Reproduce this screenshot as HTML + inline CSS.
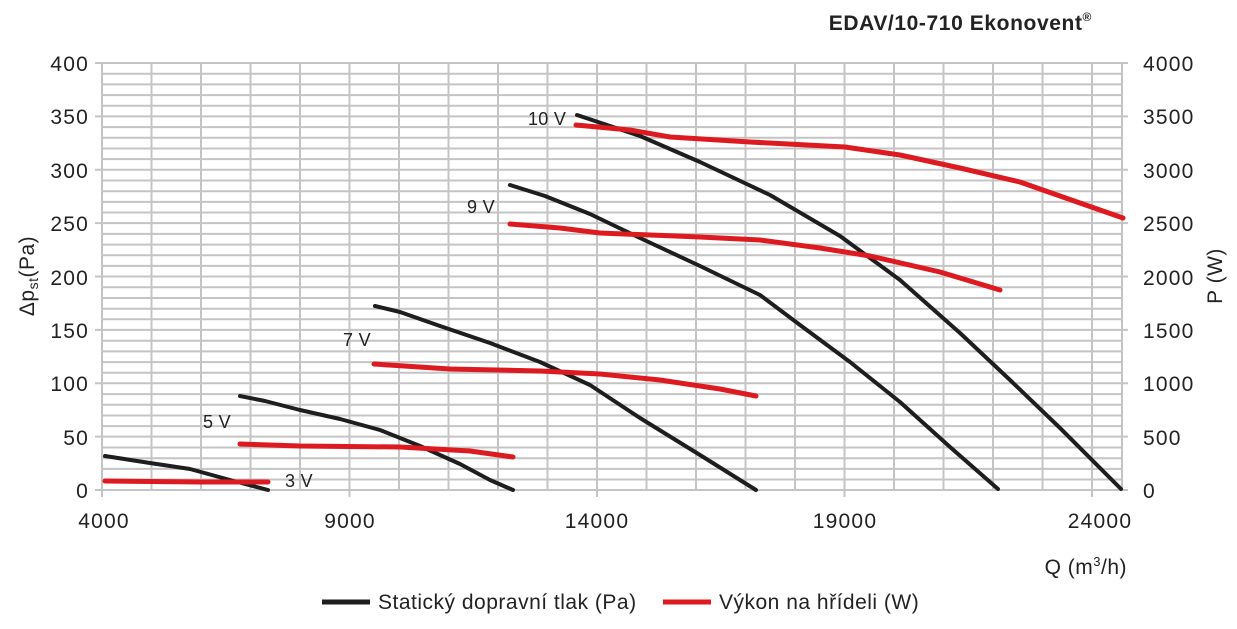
<!DOCTYPE html>
<html><head><meta charset="utf-8"><style>
body{margin:0;background:#fff;}
svg{display:block;font-family:"Liberation Sans",Arial,sans-serif;}
</style></head><body>
<svg width="1237" height="629" viewBox="0 0 1237 629">
<g stroke="#c4c4c4" stroke-width="2" fill="none">
<path d="M102 73.7H1122M102 84.4H1122M102 95.1H1122M102 105.7H1122M102 127.1H1122M102 137.8H1122M102 148.5H1122M102 159.1H1122M102 180.5H1122M102 191.2H1122M102 201.9H1122M102 212.5H1122M102 233.9H1122M102 244.6H1122M102 255.3H1122M102 265.9H1122M102 287.3H1122M102 298H1122M102 308.7H1122M102 319.3H1122M102 340.7H1122M102 351.4H1122M102 362.1H1122M102 372.7H1122M102 394.1H1122M102 404.8H1122M102 415.5H1122M102 426.1H1122M102 447.5H1122M102 458.2H1122M102 468.9H1122M102 479.5H1122"/>
<path d="M95 63H1128M95 116.4H1128M95 169.8H1128M95 223.1H1128M95 276.5H1128M95 329.9H1128M95 383.3H1128M95 436.6H1128M95 490H1128"/>
<path d="M102 63V497M151.5 63V490M201 63V490M250.5 63V490M300 63V490M349.5 63V497M399 63V490M448.5 63V490M498 63V490M547.5 63V490M597 63V497M646.5 63V490M696 63V490M745.5 63V490M795 63V490M844.5 63V497M894 63V490M943.5 63V490M993 63V490M1042.5 63V490M1092 63V497M1122 63V490"/>
</g>
<g font-size="21" letter-spacing="1.2" fill="#222" text-anchor="end">
<text x="89" y="71">400</text><text x="89" y="124">350</text><text x="89" y="178">300</text><text x="89" y="231">250</text><text x="89" y="285">200</text><text x="89" y="338">150</text><text x="89" y="391">100</text><text x="89" y="445">50</text><text x="89" y="498">0</text>
</g>
<g font-size="21" letter-spacing="1.2" fill="#222" text-anchor="start">
<text x="1143" y="71">4000</text><text x="1143" y="124">3500</text><text x="1143" y="178">3000</text><text x="1143" y="231">2500</text><text x="1143" y="285">2000</text><text x="1143" y="338">1500</text><text x="1143" y="391">1000</text><text x="1143" y="445">500</text><text x="1143" y="498">0</text>
</g>
<g font-size="21" letter-spacing="1.2" fill="#222" text-anchor="middle">
<text x="104" y="528">4000</text><text x="350" y="528">9000</text><text x="597" y="528">14000</text><text x="845" y="528">19000</text><text x="1100" y="528">24000</text>
</g>
<text x="1127" y="574" font-size="21" letter-spacing="0.5" fill="#222" text-anchor="end">Q (m<tspan font-size="13" dy="-8">3</tspan><tspan dy="8">/h)</tspan></text>
<text transform="translate(34,276) rotate(-90)" font-size="21" letter-spacing="0.5" fill="#222" text-anchor="middle">Δp<tspan font-size="14" dy="4">st</tspan><tspan dy="-4">(Pa)</tspan></text>
<text transform="translate(1222,276) rotate(-90)" font-size="21" letter-spacing="0.5" fill="#222" text-anchor="middle">P (W)</text>
<text x="1092" y="30" font-size="21" letter-spacing="0.6" font-weight="bold" fill="#222" text-anchor="end">EDAV/10-710 Ekonovent<tspan font-size="12" dy="-9">®</tspan></text>
<g font-size="18" letter-spacing="0.3" fill="#222">
<text x="528" y="125">10 V</text><text x="467" y="213">9 V</text><text x="343" y="346">7 V</text><text x="203" y="428">5 V</text><text x="285" y="487">3 V</text>
</g>
<g fill="none" stroke="#1e1e1e" stroke-width="4" stroke-linecap="round" stroke-linejoin="round">
<polyline points="105,456 150,463 190,469 230,480 268,490"/>
<polyline points="240,396 265,401 300,410 340,419 380,430 420,446 460,464 490,480 513,490"/>
<polyline points="375,306 400,312 440,326 490,343 540,362 590,385 640,418 700,455 756,490"/>
<polyline points="510,185 545,196 590,214 640,238 700,266 760,295 800,325 850,362 900,402 950,447 998,489"/>
<polyline points="577,115 640,136 700,162 770,195 840,236 900,280 960,333 1010,380 1060,428 1121,489"/>
</g>
<g fill="none" stroke="#dd1a1f" stroke-width="5" stroke-linecap="round" stroke-linejoin="round">
<polyline points="105,481 200,482 268,482"/>
<polyline points="240,444 300,446 400,447 470,451 513,457"/>
<polyline points="374,364 450,369 540,371 600,374 660,380 720,389 756,396"/>
<polyline points="510,224 560,228 600,233 700,237 760,240 820,248 870,256 940,272 1000,290"/>
<polyline points="576,125 630,130 670,137 750,142 845,147 900,155 960,168 1020,182 1080,203 1123,218"/>
</g>
<line x1="322" y1="602" x2="370" y2="602" stroke="#1e1e1e" stroke-width="5"/>
<text x="378" y="609" font-size="21" letter-spacing="0.5" fill="#222">Statický dopravní tlak (Pa)</text>
<line x1="663" y1="602" x2="711" y2="602" stroke="#dd1a1f" stroke-width="5"/>
<text x="719" y="609" font-size="21" letter-spacing="0.5" fill="#222">Výkon na hřídeli (W)</text>
</svg>
</body></html>
